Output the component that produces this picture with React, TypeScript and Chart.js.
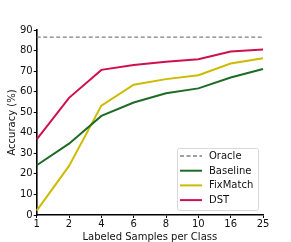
import React, { useEffect, useRef } from "react";
import { Chart, registerables } from "chart.js";

Chart.register(...registerables);

const categories = ["1", "2", "4", "6", "8", "10", "16", "25"];
const oracle = [86.5, 86.5, 86.5, 86.5, 86.5, 86.5, 86.5, 86.5];
const baseline = [24.2, 34.7, 48.2, 54.7, 59.2, 61.6, 66.9, 71.0];
const fixmatch = [2.1, 23.9, 53.2, 63.4, 66.1, 68.0, 73.7, 76.3];
const dst = [36.8, 57.0, 70.6, 73.0, 74.5, 75.8, 79.5, 80.5];
const yTicks = [0, 10, 20, 30, 40, 50, 60, 70, 80, 90];

const FONT = "'DejaVu Sans', sans-serif";

const legendPlugin = {
  id: "insideLegend",
  afterDraw(chart: any) {
    const { ctx, chartArea } = chart;
    const w = 81, h = 62;
    const x = chartArea.right - 5 - w;
    const y = chartArea.bottom - 5 - h;
    ctx.save();
    ctx.fillStyle = "rgba(255,255,255,0.85)";
    ctx.strokeStyle = "#d8d8d8";
    ctx.lineWidth = 1;
    ctx.beginPath();
    if ((ctx as any).roundRect) (ctx as any).roundRect(x + 0.5, y + 0.5, w, h, 2);
    else ctx.rect(x + 0.5, y + 0.5, w, h);
    ctx.fill();
    ctx.stroke();
    ctx.font = "10px " + FONT;
    ctx.textBaseline = "middle";
    ctx.textAlign = "left";
    chart.data.datasets.forEach((ds: any, i: number) => {
      const ry = y + 8 + i * 14.7;
      ctx.strokeStyle = ds.borderColor;
      ctx.lineWidth = ds.borderWidth;
      ctx.setLineDash(ds.borderDash || []);
      ctx.beginPath();
      ctx.moveTo(x + 3, ry);
      ctx.lineTo(x + 25, ry);
      ctx.stroke();
      ctx.setLineDash([]);
      ctx.fillStyle = "#111";
      ctx.fillText(ds.label, x + 32, ry + 0.5);
    });
    ctx.restore();
  },
};

export default function App() {
  const ref = useRef<HTMLCanvasElement>(null);
  useEffect(() => {
    if (!ref.current) return;
    const chart = new Chart(ref.current, {
      type: "line",
      data: {
        labels: categories,
        datasets: [
          { label: "Oracle", data: oracle, borderColor: "#808080", borderWidth: 1.3, borderDash: [4, 2.5], pointRadius: 0, fill: false },
          { label: "Baseline", data: baseline, borderColor: "#1e6b26", borderWidth: 2, pointRadius: 0, fill: false },
          { label: "FixMatch", data: fixmatch, borderColor: "#ccbb00", borderWidth: 2, pointRadius: 0, fill: false },
          { label: "DST", data: dst, borderColor: "#d0104c", borderWidth: 2, pointRadius: 0, fill: false },
        ],
      },
      options: {
        animation: false,
        responsive: false,
        devicePixelRatio: 1,
        layout: { padding: { left: 7, right: 28, top: 30, bottom: 0 } },
        plugins: { legend: { display: false }, tooltip: { enabled: false } },
        scales: {
          x: {
            offset: false,
            grid: { display: true, drawOnChartArea: false, drawTicks: true, tickLength: 3, color: "#000", lineWidth: 1 },
            border: { display: true, color: "#000", width: 1.6 },
            ticks: { color: "#111", font: { family: FONT, size: 10, lineHeight: 1.2 }, padding: 0, maxRotation: 0, autoSkip: false },
            title: { display: true, text: "Labeled Samples per Class", color: "#111", font: { family: FONT, size: 10, lineHeight: 1.0 }, padding: { top: 2, bottom: 0 } },
          },
          y: {
            min: 0,
            max: 90,
            afterBuildTicks: (axis: any) => {
              axis.ticks = yTicks.map((v) => ({ value: v }));
            },
            grid: { display: true, drawOnChartArea: false, drawTicks: true, tickLength: 3, color: "#000", lineWidth: 1 },
            border: { display: true, color: "#000", width: 1.6 },
            ticks: { color: "#111", font: { family: FONT, size: 10 }, padding: 1 },
            title: { display: true, text: "Accuracy (%)", color: "#111", font: { family: FONT, size: 10, lineHeight: 1.0 }, padding: { top: 0, bottom: 2 } },
          },
        },
      },
      plugins: [legendPlugin],
    });
    return () => chart.destroy();
  }, []);
  return (
    <div style={{ position: "absolute", left: 0, top: 0, width: 291, height: 242, background: "#fff" }}>
      <canvas ref={ref} width={291} height={242} style={{ width: 291, height: 242, display: "block" }} />
    </div>
  );
}
